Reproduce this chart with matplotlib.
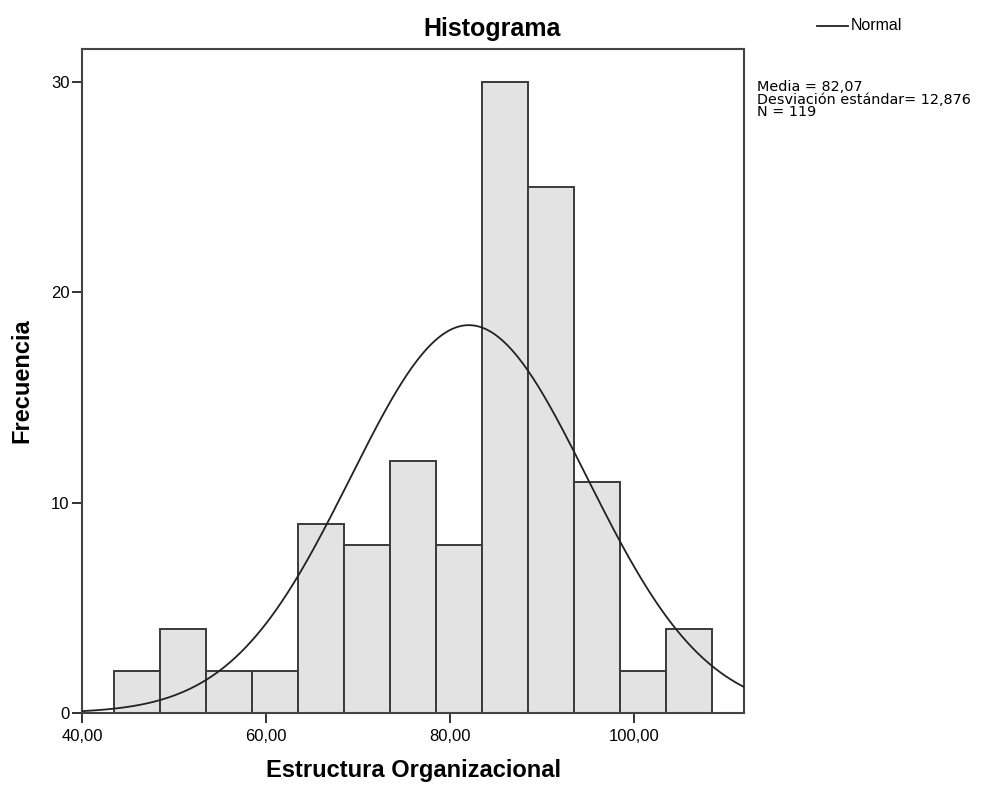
import matplotlib
matplotlib.use("Agg")
import matplotlib.pyplot as plt
import matplotlib.lines as mlines
import numpy as np

# histogram bins (width 5) and counts
bin_edges = [43.5, 48.5, 53.5, 58.5, 63.5, 68.5, 73.5, 78.5, 83.5, 88.5, 93.5, 98.5, 103.5, 108.5]
counts = [2, 4, 2, 2, 9, 8, 12, 8, 30, 25, 11, 2, 4]

media = 82.07
desv = 12.876
n_total = 119

x_ticks = [40, 60, 80, 100]
x_ticklabels = ["40,00", "60,00", "80,00", "100,00"]
y_ticks = [0, 10, 20, 30]

plt.rcParams['font.family'] = ['Liberation Sans', 'DejaVu Sans']

fig = plt.figure(figsize=(9.85, 7.87), dpi=100, facecolor='white')
ax = fig.add_axes([82/985, 1 - 713/787, (744 - 82)/985, (713 - 49)/787])

widths = np.diff(bin_edges)
ax.bar(bin_edges[:-1], counts, width=widths, align='edge',
       color='#e3e3e3', edgecolor='#3a3a3a', linewidth=1.4, zorder=2)

# normal curve scaled to the counts
xs = np.linspace(40, 112, 400)
bw = widths[0]
ys = n_total * bw / (desv * np.sqrt(2 * np.pi)) * np.exp(-0.5 * ((xs - media) / desv) ** 2)
ax.plot(xs, ys, color='#222222', linewidth=1.3, zorder=3)

ax.set_xlim(40, 112)
ax.set_ylim(0, 31.56)
ax.set_xticks(x_ticks)
ax.set_xticklabels(x_ticklabels)
ax.set_yticks(y_ticks)
ax.tick_params(axis='both', direction='out', length=7, width=1.4,
               color='#333333', labelsize=12, pad=2)
ax.tick_params(axis='x', pad=4.5)

for sp in ax.spines.values():
    sp.set_linewidth(1.5)
    sp.set_color('#444444')

ax.set_xlabel('Estructura Organizacional', fontsize=17, fontweight='bold', labelpad=11)
ax.set_ylabel('Frecuencia', fontsize=17, fontweight='bold')
ax.yaxis.set_label_coords(-0.073, 0.5)

fig.text(0.5, 1 - 36/787, 'Histograma', ha='center', va='baseline',
         fontsize=18, fontweight='bold')

# legend entry for the normal curve
fig.add_artist(mlines.Line2D([817/985, 848/985], [1 - 26/787, 1 - 26/787],
                             color='#222222', linewidth=1.3))
fig.text(851/985, 1 - 26/787, 'Normal', ha='left', va='center', fontsize=11.5)

stats = ("Media = " + f"{media:.2f}".replace('.', ',') + "\n"
         + "Desviación estándar= " + f"{desv:.3f}".replace('.', ',') + "\n"
         + "N = " + str(n_total))
fig.text(757/985, 1 - 80/787, stats, ha='left', va='top', fontsize=10.4,
         family='DejaVu Sans', linespacing=0.88)

fig.savefig('out.png', dpi=100, facecolor='white')
